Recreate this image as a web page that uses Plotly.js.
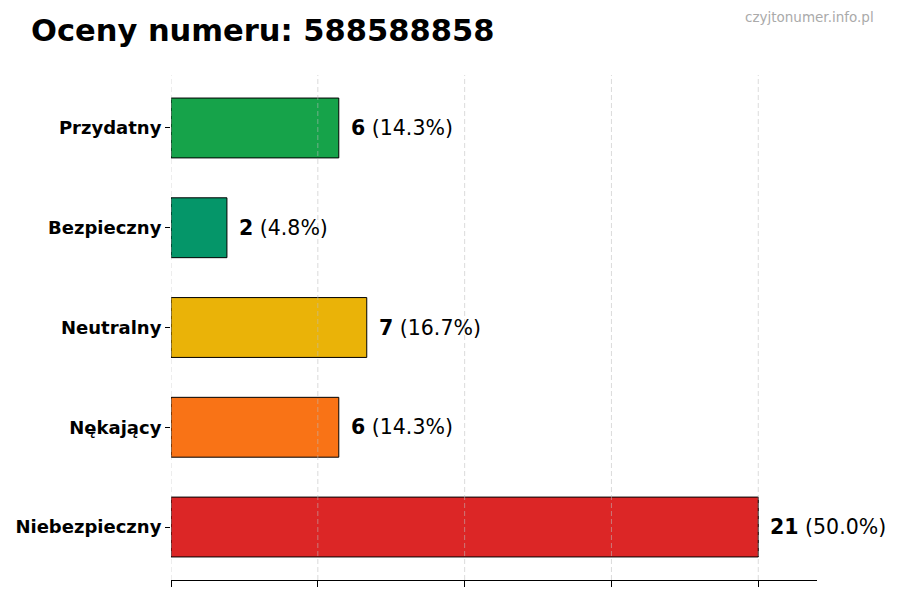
<!DOCTYPE html>
<html>
<head>
<meta charset="utf-8">
<script src="https://cdn.plot.ly/plotly-3.0.1.min.js"></script>
<style>
  html, body { margin: 0; padding: 0; background: #fff; }
  #chart { width: 900px; height: 600px; }
</style>
</head>
<body>
<div id="chart"></div>
<script>
// ratings for the number, listed top to bottom as shown
const categories = ['Przydatny', 'Bezpieczny', 'Neutralny', 'Nękający', 'Niebezpieczny'];
const counts = [6, 2, 7, 6, 21];
const percents = [14.3, 4.8, 16.7, 14.3, 50.0];
const barColors = ['#16a34a', '#059669', '#eab308', '#f97316', '#dc2626'];

const maxCount = Math.max(...counts);
// grid / ticks split the max value in four, like the original
const gridVals = [0, 1, 2, 3, 4].map(i => maxCount * i / 4);

let trace = {
    x: counts,
    y: categories,
    type: 'bar',
    orientation: 'h',
    width: 0.6,
    marker: {
        color: barColors,
        line: { color: '#000', width: 1 }
    },
    hoverinfo: 'none'
};

// value labels next to each bar
let labels = counts.map((c, i) => ({
    x: c,
    y: categories[i],
    xref: 'x',
    yref: 'y',
    text: '<b>' + c + '</b> (' + percents[i].toFixed(1) + '%)',
    showarrow: false,
    xanchor: 'left',
    yanchor: 'middle',
    xshift: 10,
    font: { family: 'DejaVu Sans', size: 20.5, color: '#000' }
}));

// watermark, top right (plot area is 171..817 x, 75..580 y)
labels.push({
    text: 'czyjtonumer.info.pl',
    xref: 'paper', yref: 'paper',
    x: (876 - 171) / 646, y: (580 - 17) / 505,
    xanchor: 'right', yanchor: 'middle',
    showarrow: false,
    font: { family: 'DejaVu Sans', size: 13.5, color: '#aaaaaa' }
});

// dashed grid drawn over the bars
let grid = gridVals.map(v => ({
    type: 'line',
    xref: 'x', yref: 'paper',
    x0: v, x1: v, y0: 0, y1: 1,
    layer: 'above',
    line: { color: 'rgba(190,190,190,0.55)', width: 1, dash: '5px,3px' }
}));

let layout = {
    width: 900,
    height: 600,
    margin: { l: 171, r: 83, t: 75, b: 20 },
    paper_bgcolor: '#fff',
    plot_bgcolor: '#fff',
    showlegend: false,
    title: {
        text: '<b>Oceny numeru: 588588858</b>',
        font: { family: 'DejaVu Sans', size: 30.5, color: '#000' },
        xref: 'container',
        yref: 'container',
        x: 31 / 900,
        xanchor: 'left',
        y: 1 - 30 / 600,
        yanchor: 'middle'
    },
    xaxis: {
        range: [0, maxCount * 1.1],
        tickvals: gridVals,
        showticklabels: false,
        ticks: 'outside',
        ticklen: 6,
        tickcolor: '#000',
        showgrid: false,
        zeroline: false,
        showline: true,
        linecolor: '#000',
        linewidth: 1
    },
    yaxis: {
        range: [categories.length - 0.469, -0.531],
        ticks: 'outside',
        ticklen: 5,
        tickcolor: '#000',
        showline: false,
        showgrid: false,
        zeroline: false,
        tickfont: { family: 'DejaVu Sans', size: 18, color: '#000', weight: 'bold' }
    },
    annotations: labels,
    shapes: grid
};

Plotly.newPlot('chart', [trace], layout, { staticPlot: true });
</script>
</body>
</html>
